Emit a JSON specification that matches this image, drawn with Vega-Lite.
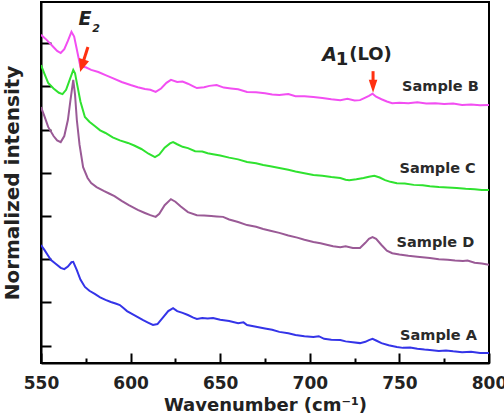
{
  "$schema": "https://vega.github.io/schema/vega-lite/v6.json",
  "width": 448,
  "height": 361,
  "autosize": "none",
  "padding": {"left": 41, "top": 2, "right": 15, "bottom": 53},
  "background": "white",
  "config": {
    "view": {"stroke": "black", "strokeWidth": 2},
    "axis": {"domainColor": "black", "domainWidth": 2, "tickColor": "black", "tickWidth": 2, "grid": false,
      "labelFont": "DejaVu Sans", "labelFontWeight": "bold", "labelFontSize": 17, "labelColor": "#222",
      "titleFont": "DejaVu Sans", "titleFontWeight": "bold", "titleColor": "#222"}
  },
  "datasets": {
    "spectra": [
      {"s":"B","w":550,"v":7.19},{"s":"B","w":553,"v":7.08},{"s":"B","w":556,"v":6.95},{"s":"B","w":559,"v":6.82},{"s":"B","w":561,"v":6.77},{"s":"B","w":563,"v":6.86},{"s":"B","w":565,"v":7.05},{"s":"B","w":567,"v":7.26},{"s":"B","w":568.5,"v":7.15},{"s":"B","w":570,"v":6.85},{"s":"B","w":572,"v":6.45},{"s":"B","w":575,"v":6.44},{"s":"B","w":578,"v":6.38},{"s":"B","w":582,"v":6.33},{"s":"B","w":586,"v":6.26},{"s":"B","w":590,"v":6.19},{"s":"B","w":595,"v":6.1},{"s":"B","w":600,"v":6.03},{"s":"B","w":604,"v":5.98},{"s":"B","w":608,"v":5.94},{"s":"B","w":611,"v":5.92},{"s":"B","w":614,"v":5.87},{"s":"B","w":617,"v":5.95},{"s":"B","w":620,"v":6.08},{"s":"B","w":622.5,"v":6.15},{"s":"B","w":626,"v":6.1},{"s":"B","w":629,"v":6.11},{"s":"B","w":632,"v":6.06},{"s":"B","w":635,"v":6.0},{"s":"B","w":637,"v":5.96},{"s":"B","w":641,"v":5.98},{"s":"B","w":644,"v":6.01},{"s":"B","w":648,"v":6.03},{"s":"B","w":652,"v":5.97},{"s":"B","w":656,"v":5.95},{"s":"B","w":660,"v":5.93},{"s":"B","w":665,"v":5.87},{"s":"B","w":670,"v":5.86},{"s":"B","w":675,"v":5.84},{"s":"B","w":679,"v":5.81},{"s":"B","w":683,"v":5.8},{"s":"B","w":688,"v":5.82},{"s":"B","w":692,"v":5.77},{"s":"B","w":697,"v":5.77},{"s":"B","w":702,"v":5.75},{"s":"B","w":707,"v":5.73},{"s":"B","w":712,"v":5.7},{"s":"B","w":717,"v":5.68},{"s":"B","w":721,"v":5.71},{"s":"B","w":725,"v":5.67},{"s":"B","w":728,"v":5.68},{"s":"B","w":731,"v":5.74},{"s":"B","w":733,"v":5.78},{"s":"B","w":735,"v":5.83},{"s":"B","w":737,"v":5.76},{"s":"B","w":740,"v":5.7},{"s":"B","w":743,"v":5.65},{"s":"B","w":746,"v":5.61},{"s":"B","w":750,"v":5.62},{"s":"B","w":755,"v":5.61},{"s":"B","w":760,"v":5.63},{"s":"B","w":765,"v":5.6},{"s":"B","w":770,"v":5.61},{"s":"B","w":775,"v":5.59},{"s":"B","w":780,"v":5.6},{"s":"B","w":785,"v":5.57},{"s":"B","w":790,"v":5.58},{"s":"B","w":795,"v":5.56},{"s":"B","w":800,"v":5.57},
      {"s":"C","w":550,"v":6.49},{"s":"C","w":552,"v":6.28},{"s":"C","w":554,"v":6.08},{"s":"C","w":557,"v":5.95},{"s":"C","w":560,"v":5.85},{"s":"C","w":562,"v":5.82},{"s":"C","w":564,"v":5.92},{"s":"C","w":566,"v":6.15},{"s":"C","w":568,"v":6.38},{"s":"C","w":569,"v":6.3},{"s":"C","w":570,"v":6.08},{"s":"C","w":572,"v":5.65},{"s":"C","w":574.5,"v":5.29},{"s":"C","w":577,"v":5.18},{"s":"C","w":580,"v":5.08},{"s":"C","w":583,"v":4.98},{"s":"C","w":586,"v":4.92},{"s":"C","w":590,"v":4.82},{"s":"C","w":594,"v":4.75},{"s":"C","w":598.5,"v":4.69},{"s":"C","w":602,"v":4.63},{"s":"C","w":606,"v":4.55},{"s":"C","w":610,"v":4.44},{"s":"C","w":613.6,"v":4.36},{"s":"C","w":616,"v":4.42},{"s":"C","w":619,"v":4.58},{"s":"C","w":622,"v":4.68},{"s":"C","w":623.7,"v":4.71},{"s":"C","w":626,"v":4.66},{"s":"C","w":629,"v":4.6},{"s":"C","w":632,"v":4.57},{"s":"C","w":636,"v":4.5},{"s":"C","w":640,"v":4.49},{"s":"C","w":643,"v":4.45},{"s":"C","w":646,"v":4.43},{"s":"C","w":650,"v":4.4},{"s":"C","w":655,"v":4.35},{"s":"C","w":660,"v":4.31},{"s":"C","w":665,"v":4.25},{"s":"C","w":670,"v":4.22},{"s":"C","w":674,"v":4.18},{"s":"C","w":678,"v":4.15},{"s":"C","w":683,"v":4.11},{"s":"C","w":688,"v":4.07},{"s":"C","w":692,"v":4.03},{"s":"C","w":697,"v":3.99},{"s":"C","w":702,"v":3.95},{"s":"C","w":707,"v":3.93},{"s":"C","w":712,"v":3.9},{"s":"C","w":717,"v":3.88},{"s":"C","w":720,"v":3.84},{"s":"C","w":722,"v":3.83},{"s":"C","w":726,"v":3.85},{"s":"C","w":730,"v":3.88},{"s":"C","w":733,"v":3.91},{"s":"C","w":736,"v":3.93},{"s":"C","w":739,"v":3.89},{"s":"C","w":742,"v":3.83},{"s":"C","w":745,"v":3.79},{"s":"C","w":748.6,"v":3.76},{"s":"C","w":753,"v":3.75},{"s":"C","w":758,"v":3.72},{"s":"C","w":763,"v":3.71},{"s":"C","w":767,"v":3.69},{"s":"C","w":772,"v":3.67},{"s":"C","w":777,"v":3.66},{"s":"C","w":782,"v":3.65},{"s":"C","w":787,"v":3.63},{"s":"C","w":792,"v":3.62},{"s":"C","w":796,"v":3.6},{"s":"C","w":800,"v":3.6},
      {"s":"D","w":550,"v":5.52},{"s":"D","w":552,"v":5.3},{"s":"D","w":554,"v":5.06},{"s":"D","w":557,"v":4.85},{"s":"D","w":559,"v":4.75},{"s":"D","w":561,"v":4.71},{"s":"D","w":563,"v":4.85},{"s":"D","w":565,"v":5.22},{"s":"D","w":566.5,"v":5.7},{"s":"D","w":568,"v":6.15},{"s":"D","w":569,"v":5.8},{"s":"D","w":570,"v":5.22},{"s":"D","w":571.5,"v":4.65},{"s":"D","w":573.5,"v":4.13},{"s":"D","w":576,"v":3.88},{"s":"D","w":578,"v":3.76},{"s":"D","w":581,"v":3.67},{"s":"D","w":585,"v":3.58},{"s":"D","w":588,"v":3.52},{"s":"D","w":591,"v":3.46},{"s":"D","w":595,"v":3.35},{"s":"D","w":599,"v":3.25},{"s":"D","w":604,"v":3.14},{"s":"D","w":608,"v":3.07},{"s":"D","w":611,"v":3.02},{"s":"D","w":614,"v":2.98},{"s":"D","w":616,"v":3.05},{"s":"D","w":619,"v":3.25},{"s":"D","w":622.5,"v":3.39},{"s":"D","w":625,"v":3.33},{"s":"D","w":628,"v":3.22},{"s":"D","w":632,"v":3.09},{"s":"D","w":637,"v":3.02},{"s":"D","w":641,"v":3.01},{"s":"D","w":645,"v":3.0},{"s":"D","w":648,"v":2.99},{"s":"D","w":651.6,"v":2.98},{"s":"D","w":655,"v":2.92},{"s":"D","w":660,"v":2.86},{"s":"D","w":665,"v":2.79},{"s":"D","w":670,"v":2.75},{"s":"D","w":674,"v":2.7},{"s":"D","w":678,"v":2.66},{"s":"D","w":683,"v":2.61},{"s":"D","w":688,"v":2.55},{"s":"D","w":693,"v":2.5},{"s":"D","w":697,"v":2.45},{"s":"D","w":702,"v":2.4},{"s":"D","w":706,"v":2.37},{"s":"D","w":710,"v":2.33},{"s":"D","w":713,"v":2.3},{"s":"D","w":717,"v":2.28},{"s":"D","w":720,"v":2.3},{"s":"D","w":724,"v":2.26},{"s":"D","w":728,"v":2.26},{"s":"D","w":731,"v":2.38},{"s":"D","w":733,"v":2.47},{"s":"D","w":735,"v":2.51},{"s":"D","w":737,"v":2.47},{"s":"D","w":740,"v":2.33},{"s":"D","w":743,"v":2.2},{"s":"D","w":746,"v":2.14},{"s":"D","w":750,"v":2.11},{"s":"D","w":755,"v":2.08},{"s":"D","w":760,"v":2.06},{"s":"D","w":767,"v":2.03},{"s":"D","w":772,"v":2.0},{"s":"D","w":777,"v":1.99},{"s":"D","w":781,"v":1.97},{"s":"D","w":785.5,"v":1.96},{"s":"D","w":788,"v":1.97},{"s":"D","w":792,"v":1.92},{"s":"D","w":796,"v":1.9},{"s":"D","w":800,"v":1.87},
      {"s":"A","w":550,"v":2.33},{"s":"A","w":552,"v":2.21},{"s":"A","w":554,"v":2.08},{"s":"A","w":555.6,"v":1.98},{"s":"A","w":558,"v":1.9},{"s":"A","w":561,"v":1.8},{"s":"A","w":563,"v":1.77},{"s":"A","w":565,"v":1.83},{"s":"A","w":567,"v":1.93},{"s":"A","w":568,"v":1.94},{"s":"A","w":570,"v":1.75},{"s":"A","w":572,"v":1.53},{"s":"A","w":574.5,"v":1.36},{"s":"A","w":577,"v":1.27},{"s":"A","w":580,"v":1.2},{"s":"A","w":583,"v":1.12},{"s":"A","w":586,"v":1.06},{"s":"A","w":589,"v":1.01},{"s":"A","w":592,"v":0.97},{"s":"A","w":594,"v":0.94},{"s":"A","w":596,"v":0.87},{"s":"A","w":598,"v":0.8},{"s":"A","w":601,"v":0.73},{"s":"A","w":604,"v":0.66},{"s":"A","w":607,"v":0.59},{"s":"A","w":610,"v":0.53},{"s":"A","w":612.5,"v":0.48},{"s":"A","w":615,"v":0.5},{"s":"A","w":618,"v":0.65},{"s":"A","w":621,"v":0.8},{"s":"A","w":623.7,"v":0.87},{"s":"A","w":626,"v":0.8},{"s":"A","w":629,"v":0.76},{"s":"A","w":632,"v":0.71},{"s":"A","w":635,"v":0.65},{"s":"A","w":637,"v":0.62},{"s":"A","w":640,"v":0.64},{"s":"A","w":643,"v":0.63},{"s":"A","w":646,"v":0.64},{"s":"A","w":650,"v":0.6},{"s":"A","w":655,"v":0.57},{"s":"A","w":660,"v":0.52},{"s":"A","w":663,"v":0.54},{"s":"A","w":665,"v":0.48},{"s":"A","w":670,"v":0.44},{"s":"A","w":675,"v":0.4},{"s":"A","w":679,"v":0.37},{"s":"A","w":683,"v":0.32},{"s":"A","w":688,"v":0.29},{"s":"A","w":692,"v":0.25},{"s":"A","w":697,"v":0.22},{"s":"A","w":702,"v":0.2},{"s":"A","w":705,"v":0.22},{"s":"A","w":708,"v":0.16},{"s":"A","w":712,"v":0.14},{"s":"A","w":717,"v":0.13},{"s":"A","w":720,"v":0.1},{"s":"A","w":724,"v":0.08},{"s":"A","w":728,"v":0.06},{"s":"A","w":731,"v":0.09},{"s":"A","w":733,"v":0.13},{"s":"A","w":735,"v":0.16},{"s":"A","w":737,"v":0.12},{"s":"A","w":740,"v":0.06},{"s":"A","w":744,"v":0.01},{"s":"A","w":748.6,"v":-0.03},{"s":"A","w":752,"v":-0.05},{"s":"A","w":756,"v":-0.04},{"s":"A","w":760,"v":-0.07},{"s":"A","w":764,"v":-0.09},{"s":"A","w":767,"v":-0.1},{"s":"A","w":772,"v":-0.12},{"s":"A","w":776,"v":-0.11},{"s":"A","w":780,"v":-0.13},{"s":"A","w":785,"v":-0.15},{"s":"A","w":790,"v":-0.14},{"s":"A","w":795,"v":-0.17},{"s":"A","w":800,"v":-0.17}
    ],
    "labels": [
      {"t":"Sample B","w":772.9,"v":5.98},
      {"t":"Sample C","w":771.3,"v":4.09},
      {"t":"Sample D","w":770.1,"v":2.38},
      {"t":"Sample A","w":771.8,"v":0.22}
    ],
    "notes": [
      {"t":"E","k":"sym","w":574.6,"v":7.56},
      {"t":"2","k":"sub","w":580.7,"v":7.33},
      {"t":"A","k":"sym","w":711.0,"v":6.72},
      {"t":"1","k":"num","w":718.0,"v":6.6},
      {"t":"(LO)","k":"par","w":733.9,"v":6.72}
    ],
    "arrows": [
      {"id":"E2","w":576.2,"v":6.91,"w2":573.2,"v2":6.52,"wt":571.8,"vt":6.33},
      {"id":"A1","w":735.3,"v":6.35,"w2":735.3,"v2":6.05,"wt":735.3,"vt":5.85}
    ]
  },
  "layer": [
    {
      "data": {"name": "spectra"},
      "mark": {"type": "line", "strokeWidth": 2, "interpolate": "linear", "clip": true},
      "encoding": {
        "x": {"field": "w", "type": "quantitative", "scale": {"domain": [550, 800], "nice": false},
          "axis": {"values": [550,575,600,625,650,675,700,725,750,775,800],
            "labelExpr": "datum.value % 50 === 0 ? datum.label : ''",
            "tickSize": {"condition": {"test": "datum.value % 50 === 0", "value": -10}, "value": -5},
            "labelPadding": 22, "labelFlush": false,
            "title": "Wavenumber (cm⁻¹)", "titleFontSize": 18, "titlePadding": 5}},
        "y": {"field": "v", "type": "quantitative", "scale": {"domain": [-0.4, 7.95], "nice": false, "zero": false},
          "axis": {"values": [0,1,2,3,4,5,6,7], "labels": false, "tickSize": -10,
            "title": "Normalized intensity", "titleFontSize": 20, "titlePadding": 18}},
        "color": {"field": "s", "type": "nominal", "legend": null,
          "scale": {"domain": ["B","C","D","A"], "range": ["#f24ef2","#2fe22f","#9a5a96","#3434e8"]}},
        "detail": {"field": "s"}
      }
    },
    {
      "data": {"name": "labels"},
      "mark": {"type": "text", "font": "DejaVu Sans", "fontWeight": "bold", "fontSize": 14.5, "color": "#2a2a2a", "align": "center", "baseline": "middle"},
      "encoding": {
        "x": {"field": "w", "type": "quantitative"},
        "y": {"field": "v", "type": "quantitative"},
        "text": {"field": "t"}
      }
    },
    {
      "data": {"name": "notes"},
      "transform": [{"filter": "datum.k === 'sym'"}],
      "mark": {"type": "text", "font": "DejaVu Sans", "fontWeight": "bold", "fontStyle": "italic", "fontSize": 19, "color": "#222", "align": "center", "baseline": "middle"},
      "encoding": {
        "x": {"field": "w", "type": "quantitative"},
        "y": {"field": "v", "type": "quantitative"},
        "text": {"field": "t"}
      }
    },
    {
      "data": {"name": "notes"},
      "transform": [{"filter": "datum.k === 'sub'"}],
      "mark": {"type": "text", "font": "DejaVu Sans", "fontWeight": "bold", "fontStyle": "italic", "fontSize": 11, "color": "#222", "align": "center", "baseline": "middle"},
      "encoding": {
        "x": {"field": "w", "type": "quantitative"},
        "y": {"field": "v", "type": "quantitative"},
        "text": {"field": "t"}
      }
    },
    {
      "data": {"name": "notes"},
      "transform": [{"filter": "datum.k === 'num' || datum.k === 'par'"}],
      "mark": {"type": "text", "font": "DejaVu Sans", "fontWeight": "bold", "fontSize": 18, "color": "#222", "align": "center", "baseline": "middle"},
      "encoding": {
        "x": {"field": "w", "type": "quantitative"},
        "y": {"field": "v", "type": "quantitative"},
        "text": {"field": "t"}
      }
    },
    {
      "data": {"name": "arrows"},
      "mark": {"type": "rule", "color": "#ff3010", "strokeWidth": 3},
      "encoding": {
        "x": {"field": "w", "type": "quantitative"},
        "y": {"field": "v", "type": "quantitative"},
        "x2": {"field": "w2"},
        "y2": {"field": "v2"}
      }
    },
    {
      "data": {"name": "arrows"},
      "transform": [{"filter": "datum.id === 'E2'"}],
      "mark": {"type": "point", "shape": "M0,0L-0.4,-1L0.4,-1Z", "filled": true, "color": "#ff3010", "opacity": 1, "size": 676, "angle": 18},
      "encoding": {
        "x": {"field": "wt", "type": "quantitative"},
        "y": {"field": "vt", "type": "quantitative"}
      }
    },
    {
      "data": {"name": "arrows"},
      "transform": [{"filter": "datum.id === 'A1'"}],
      "mark": {"type": "point", "shape": "M0,0L-0.33,-1L0.33,-1Z", "filled": true, "color": "#ff3010", "opacity": 1, "size": 676, "angle": 0},
      "encoding": {
        "x": {"field": "wt", "type": "quantitative"},
        "y": {"field": "vt", "type": "quantitative"}
      }
    }
  ]
}
